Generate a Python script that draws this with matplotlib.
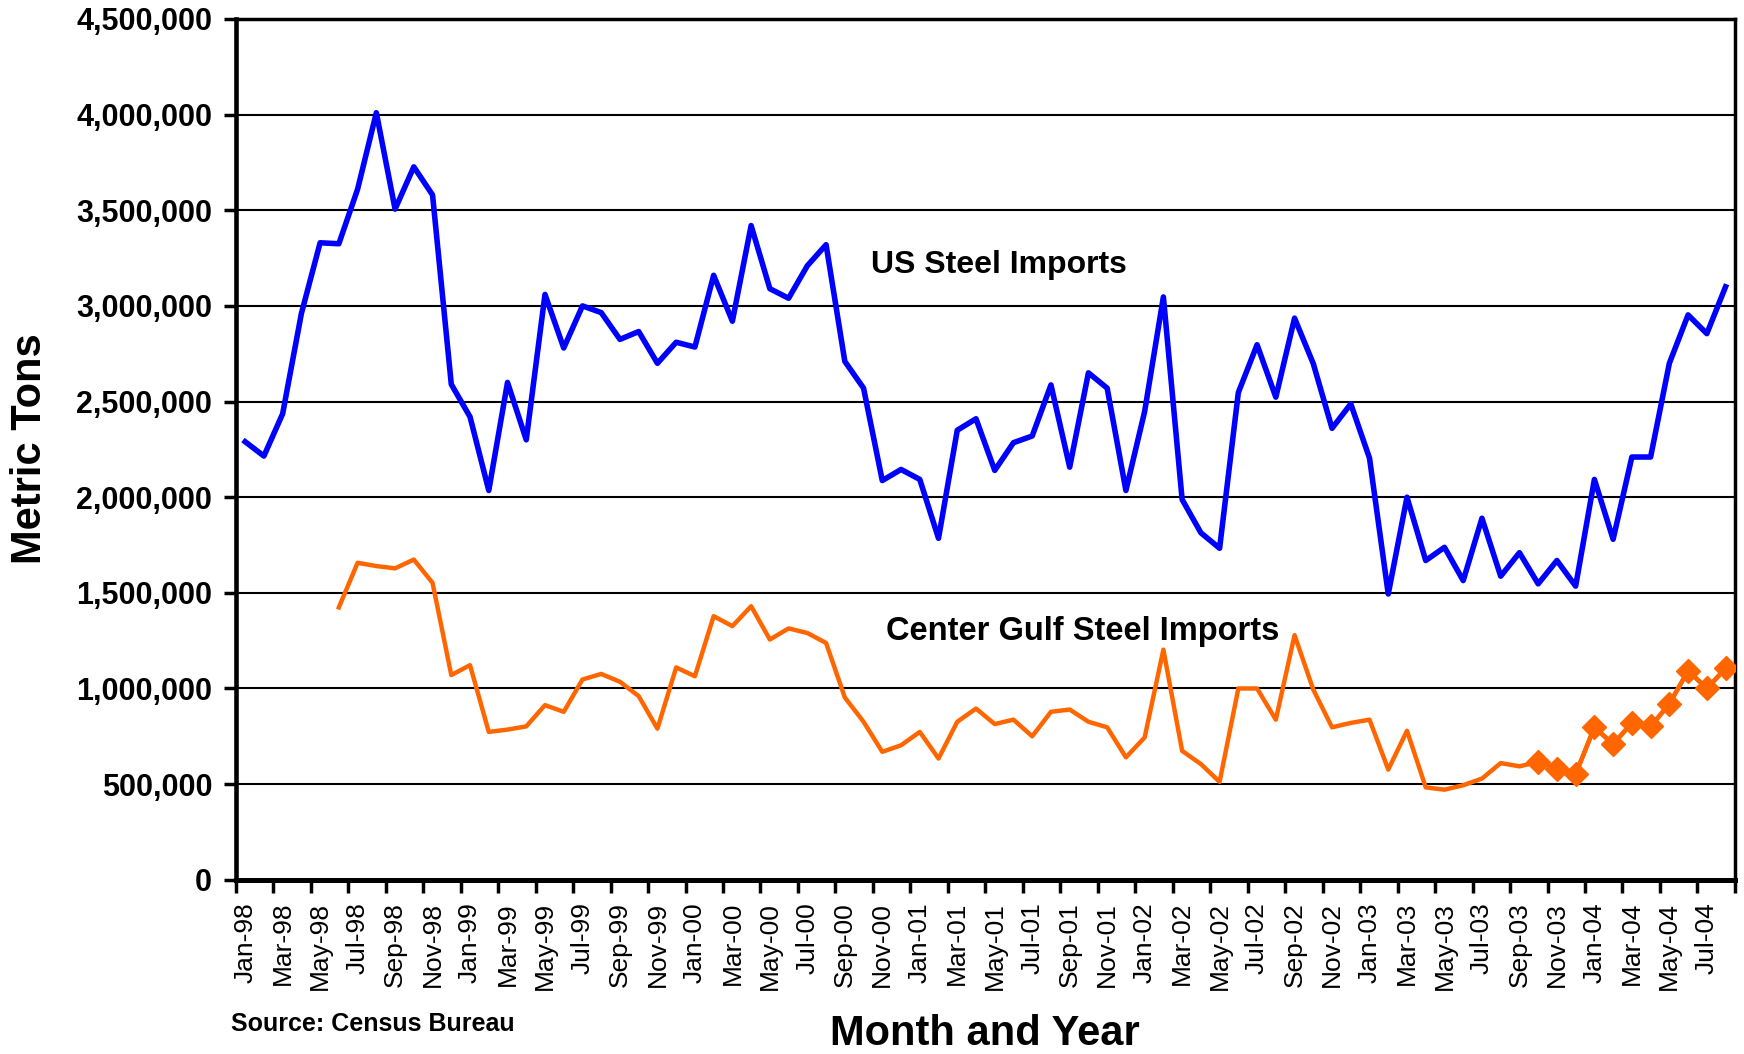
import numpy as np
import pandas as pd
import matplotlib
matplotlib.use("Agg")
import matplotlib.pyplot as plt
from matplotlib.ticker import FuncFormatter

# Month labels Jan-98 ... Aug-04
months = pd.date_range("1998-01-01", periods=80, freq="MS").strftime("%b-%y").tolist()

# US steel imports (metric tons)
us_imports = [
    2290000, 2215000, 2436000, 2960000, 3330000, 3325000, 3610000, 4010000, 3506000, 3727000, 3580000, 2590000,
    2420000, 2035000, 2600000, 2300000, 3060000, 2780000, 3000000, 2965000, 2825000, 2866000, 2700000, 2810000,
    2785000, 3160000, 2920000, 3420000, 3090000, 3040000, 3210000, 3320000, 2710000, 2570000, 2087000, 2145000,
    2093000, 1785000, 2350000, 2410000, 2140000, 2285000, 2320000, 2587000, 2157000, 2650000, 2570000, 2035000,
    2448000, 3047000, 1988000, 1814000, 1733000, 2547000, 2797000, 2523000, 2936000, 2698000, 2360000, 2488000,
    2204000, 1494000, 2000000, 1669000, 1738000, 1564000, 1890000, 1587000, 1710000, 1547000, 1669000, 1535000,
    2093000, 1780000, 2210000, 2210000, 2700000, 2953000, 2855000, 3100000,
]

# Center Gulf steel imports (metric tons), no data before Jun-98
gulf_imports = [
    None, None, None, None, None, 1424000, 1657000, 1640000, 1628000, 1674000, 1552000, 1070000,
    1122000, 773000, 785000, 802000, 913000, 878000, 1047000, 1076000, 1035000, 960000, 790000, 1110000,
    1064000, 1378000, 1326000, 1430000, 1256000, 1314000, 1290000, 1238000, 953000, 826000, 669000, 703000,
    773000, 634000, 826000, 895000, 814000, 837000, 750000, 878000, 890000, 826000, 797000, 640000,
    744000, 1203000, 674000, 605000, 512000, 1000000, 1000000, 837000, 1279000, 994000, 797000, 820000,
    837000, 576000, 779000, 483000, 471000, 494000, 529000, 610000, 593000, 616000, 581000, 552000,
    797000, 709000, 820000, 802000, 919000, 1093000, 1000000, 1105000,
]

# months from which the Gulf series is drawn with diamond markers
marker_start = "Oct-03"

x = np.arange(len(months))
gulf = np.array([np.nan if v is None else v for v in gulf_imports], dtype=float)

plt.rcParams['font.family'] = ['Liberation Sans', 'DejaVu Sans']

fig = plt.figure(figsize=(17.44, 10.54), dpi=100)
ax = fig.add_axes([0.1352, 0.1653, 0.8596, 0.8167])

ax.plot(x, us_imports, color="#0000FF", lw=4, zorder=3)
ax.plot(x, gulf, color="#FF6600", lw=3.2, zorder=3)
k = months.index(marker_start)
ax.plot(x[k:], gulf[k:], color="#FF6600", lw=3.2, marker="D", ms=12, zorder=4)

ax.set_ylim(0, 4500000)
ax.set_xlim(-0.5, len(months) - 0.5)
ax.set_yticks(np.arange(0, 4500001, 500000))
ax.yaxis.set_major_formatter(FuncFormatter(lambda v, p: f"{v:,.0f}"))
ax.yaxis.grid(True, color="black", lw=1.5)
ax.set_axisbelow(True)

# tick marks on category boundaries, labels in category centres
ax.set_xticks(np.arange(-0.5, len(months), 2))
ax.set_xticklabels([])
ax.set_xticks(x[::2], minor=True)
ax.set_xticklabels(months[::2], minor=True, rotation=90, fontsize=19)
ax.tick_params(axis="x", which="major", length=9, width=2.5, direction="out")
ax.tick_params(axis="x", which="minor", length=0, pad=16)
ax.tick_params(axis="y", which="major", length=9, width=2.5, pad=8)
for lab in ax.get_yticklabels():
    lab.set_fontsize(22)
    lab.set_fontweight("bold")

ax.spines["left"].set_linewidth(3.3)
ax.spines["bottom"].set_linewidth(3.6)
ax.spines["top"].set_linewidth(2.5)
ax.spines["right"].set_linewidth(2.5)

ax.text(40.2, 3215000, "US Steel Imports", fontsize=23, fontweight="bold", ha="center", va="center")
ax.text(44.7, 1300000, "Center Gulf Steel Imports", fontsize=23.5, fontweight="bold", ha="center", va="center")

fig.text(0.0172, 0.574, "Metric Tons", rotation=90, fontsize=30, fontweight="bold", ha="center", va="center")
fig.text(0.565, 0.019, "Month and Year", fontsize=30, fontweight="bold", ha="center", va="center")
fig.text(0.1327, 0.028, "Source: Census Bureau", fontsize=18, fontweight="bold", ha="left", va="center")

fig.savefig("out.png", dpi=100)
